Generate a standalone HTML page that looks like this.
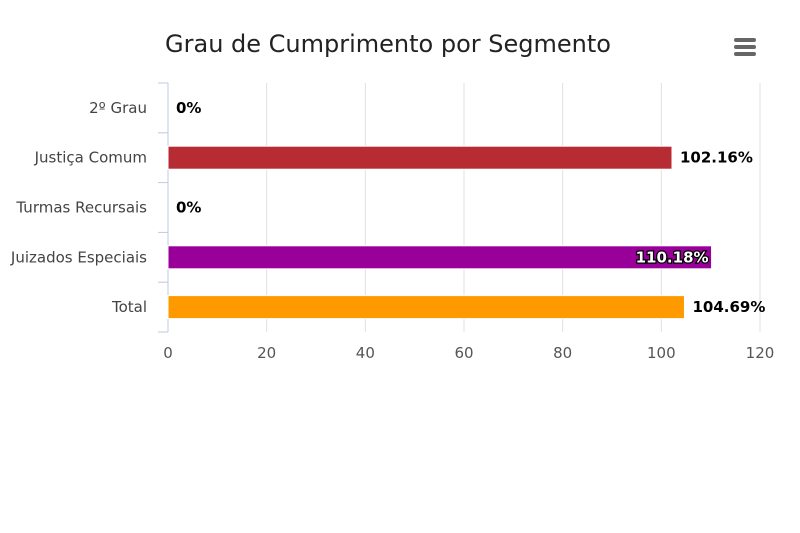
<!DOCTYPE html>
<html><head><meta charset="utf-8"><style>
body{margin:0;background:#fff;}
svg{display:block;font-family:"DejaVu Sans","Liberation Sans",sans-serif;}
</style></head><body>
<svg id="chart" width="800" height="533">
<rect width="800" height="533" fill="#fff"/>
<text x="388" y="52" text-anchor="middle" font-size="24" fill="#222">Grau de Cumprimento por Segmento</text>
<g>
<rect x="734" y="38" width="22" height="4" rx="2" fill="#666"/>
<rect x="734" y="45" width="22" height="4" rx="2" fill="#666"/>
<rect x="734" y="52" width="22" height="4" rx="2" fill="#666"/>
</g>
<g id="grid"></g><g id="bars"></g><g id="labels"></g>
</svg>
<script>
const categories=["2º Grau","Justiça Comum","Turmas Recursais","Juizados Especiais","Total"];
const values=[0,102.16,0,110.18,104.69];
const colors=["#7cb5ec","#b72b32","#7cb5ec","#990099","#ff9900"];
const ticks=[0,20,40,60,80,100,120];
const NS="http://www.w3.org/2000/svg";
const x0=168,x1=760,plotTop=83,plotBottom=332,maxV=120;
const xs=v=>x0+(v/maxV)*(x1-x0);
const rowH=(plotBottom-plotTop)/categories.length;
const yc=i=>plotTop+rowH*(i+0.5);
function mk(t,a,p){const e=document.createElementNS(NS,t);for(const k in a)e.setAttribute(k,a[k]);p.appendChild(e);return e;}
const gGrid=document.getElementById('grid'),gBars=document.getElementById('bars'),gLab=document.getElementById('labels');
ticks.forEach(t=>{
 if(t>0){const ln=mk('line',{x1:xs(t),x2:xs(t),y1:plotTop,y2:plotBottom,stroke:'#e0e0e0','stroke-width':1},gGrid);
 
 }
 const tx=mk('text',{x:xs(t),y:358,'text-anchor':'middle','font-size':15,fill:'#555'},gGrid);tx.textContent=t;
 
 
});
const ax=mk('line',{x1:x0,x2:x0,y1:plotTop,y2:plotBottom,stroke:'#c0c8e0','stroke-width':1},gGrid);


for(let i=0;i<=categories.length;i++){const tk=mk('line',{x1:x0-10,x2:x0,y1:plotTop+rowH*i,y2:plotTop+rowH*i,stroke:'#c0c8e0'},gGrid);

}
categories.forEach((c,i)=>{
 const t=mk('text',{x:147,y:yc(i)+5,'text-anchor':'end','font-size':15,fill:'#444'},gLab);t.textContent=c;
 
 
 const v=values[i];
 if(v>0){const r=mk('rect',{x:x0,y:yc(i)-11.5,width:xs(v)-x0,height:23,fill:colors[i],stroke:'#fff','stroke-width':1},gBars);
 
 }
 const txt=(v===0?'0':v.toFixed(2))+'%';
 const inside=xs(v)+70>x1;
 const lx=inside?xs(v)-3:xs(v)+8;
 const vt=mk('text',{x:lx,y:yc(i)+5,'text-anchor':inside?'end':'start','font-size':15,'font-weight':'bold',fill:inside?'#fff':'#000'},gLab);
 if(inside){vt.setAttribute('stroke','#000');vt.setAttribute('stroke-width','2.5');vt.setAttribute('paint-order','stroke');}
 vt.textContent=txt;
 
 
});
</script>
</body></html>
